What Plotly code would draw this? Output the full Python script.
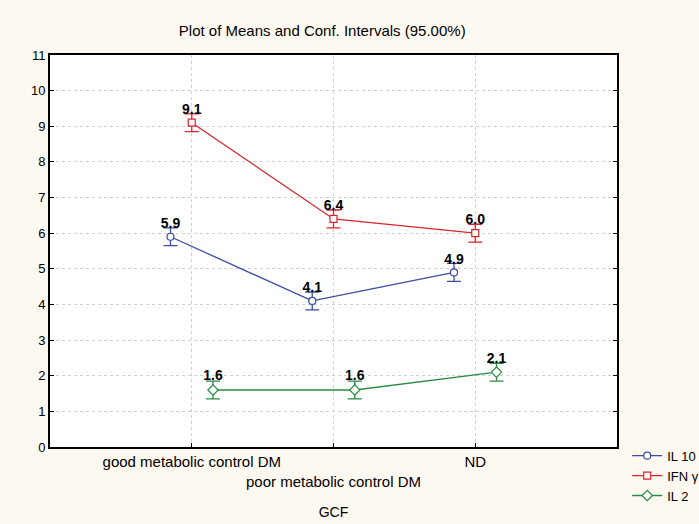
import plotly.graph_objects as go

categories = ["good metabolic control DM", "poor metabolic control DM", "ND"]
tick_labels = ["good metabolic control DM", "<br>poor metabolic control DM", "ND"]
series_names = ["IL 10", "IFN \u03b3", "IL 2"]
il10_means = [5.9, 4.1, 4.9]
il10_ci = [0.25, 0.25, 0.25]
ifn_means = [9.1, 6.4, 6.0]
ifn_ci = [0.25, 0.25, 0.25]
il2_means = [1.6, 1.6, 2.1]
il2_ci = [0.25, 0.25, 0.25]

colors = ["#3a4ca6", "#d9262b", "#2b8a44"]
symbols = ["circle", "square", "diamond"]
offsets = [-0.15, 0.0, 0.15]

fig = go.Figure()
cat_pos = list(range(1, len(categories) + 1))
for name, means, ci, col, sym, off in zip(
    series_names, [il10_means, ifn_means, il2_means], [il10_ci, ifn_ci, il2_ci],
    colors, symbols, offsets):
    fig.add_trace(go.Scatter(
        x=[p + off for p in cat_pos], y=means, name=name,
        mode="lines+markers+text",
        text=[f"{v:.1f}" for v in means],
        textposition="top center",
        textfont=dict(family="Arial, Liberation Sans", size=14, color="black", weight="bold"),
        line=dict(color=col, width=1.3),
        marker=dict(symbol=sym, size=8 if sym == "diamond" else 7, color="white",
                    line=dict(width=1.2, color=col)),
        error_y=dict(type="data", array=ci, color=col, thickness=1.3, width=7, visible=True),
    ))

axis_font = dict(family="Arial, Liberation Sans", color="black")
fig.update_layout(
    width=699, height=524,
    margin=dict(l=50, r=82, t=55, b=77, autoexpand=False),
    paper_bgcolor="#fdf9f1", plot_bgcolor="white",
    title=dict(text="Plot of Means and Conf. Intervals (95.00%)",
               x=0.461, xanchor="center", y=1 - 31 / 524, yanchor="middle",
               font=dict(family="Arial, Liberation Sans", size=15, color="black")),
    xaxis=dict(range=[0, 4], tickvals=cat_pos, ticktext=tick_labels, automargin=False,
               tickangle=0,
               ticks="inside", ticklen=4, tickcolor="black",
               showline=True, linecolor="black", linewidth=2, mirror=True,
               showgrid=True, gridcolor="#cfcfcf", griddash="dot", gridwidth=1,
               zeroline=False, tickfont=dict(size=15, **axis_font),
               title=dict(text="GCF", font=dict(size=14, **axis_font), standoff=19)),
    yaxis=dict(range=[0, 11], dtick=1, ticks="inside", ticklen=4, tickcolor="black",
               automargin=False,
               showline=True, linecolor="black", linewidth=2, mirror="ticks",
               showgrid=True, gridcolor="#cfcfcf", griddash="dot", gridwidth=1,
               zeroline=False, tickfont=dict(size=13, **axis_font)),
    legend=dict(x=1.018, xanchor="left", y=0.016, yanchor="top",
                bgcolor="rgba(0,0,0,0)", font=dict(size=13, **axis_font),
                tracegroupgap=0),
    showlegend=True,
)

fig.write_html("out.html", config={"displayModeBar": False},
               post_script="document.body.style.margin='0';")
